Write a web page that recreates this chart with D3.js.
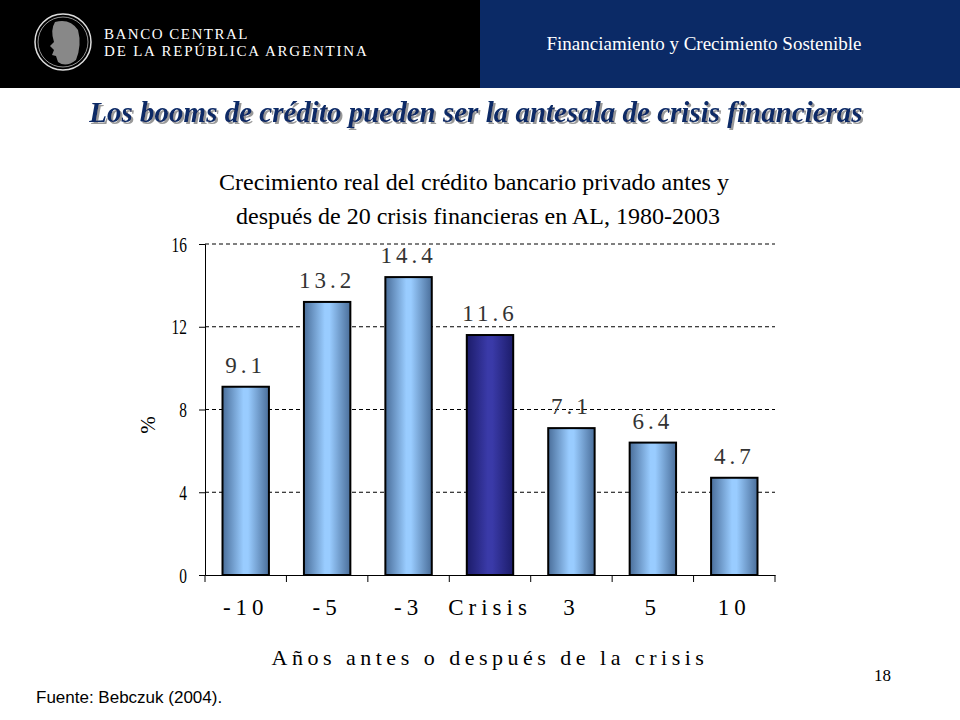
<!DOCTYPE html><html><head><meta charset="utf-8"><script src="https://cdn.jsdelivr.net/npm/d3@7"></script>
<style>body{margin:0;background:#fff}svg text{font-family:"Liberation Serif","Times New Roman","DejaVu Serif",serif}</style></head><body><svg width="960" height="720"></svg>
<script>
const categories=["-10","-5","-3","Crisis","3","5","10"];
const values=[9.1,13.2,14.4,11.6,7.1,6.4,4.7];
const yTicks=[0,4,8,12,16];
const svg=d3.select("svg");
const defs=svg.append("defs");
function grad(id,edge,mid){const g=defs.append("linearGradient").attr("id",id);
 [[0,edge],[0.45,mid],[0.55,mid],[1,edge]].forEach(([o,c])=>g.append("stop").attr("offset",o).attr("stop-color",c));}
grad("gl","#4a6e9a","#99ccff");grad("gd","#1c1c6a","#3a3aa8");
const f=defs.append("filter").attr("id","sh");
f.append("feDropShadow").attr("dx",2).attr("dy",2).attr("stdDeviation",0.5).attr("flood-color","#999");
// header
svg.append("rect").attr("width",480).attr("height",88).attr("fill","#000");
svg.append("rect").attr("x",480).attr("width",480).attr("height",88).attr("fill","#0b2a66");
svg.append("circle").attr("cx",63).attr("cy",42).attr("r",28).attr("fill","none").attr("stroke","#ddd").attr("stroke-width",1.5);
svg.append("circle").attr("cx",63).attr("cy",42).attr("r",25).attr("fill","none").attr("stroke","#bbb").attr("stroke-width",0.8);
svg.append("path").attr("d","M55 22 Q70 18 78 30 Q82 45 76 60 Q66 68 58 62 L56 56 L52 55 L54 50 L50 46 L54 42 Q50 30 55 22Z").attr("fill","#888");
svg.append("text").attr("x",104).attr("y",39).attr("fill","#fff").attr("font-size",15).attr("letter-spacing",1.5).text("BANCO CENTRAL");
svg.append("text").attr("x",104).attr("y",56).attr("fill","#fff").attr("font-size",15).attr("letter-spacing",1.8).text("DE LA REPÚBLICA ARGENTINA");
svg.append("text").attr("x",704).attr("y",50).attr("fill","#fff").attr("font-size",19).attr("text-anchor","middle").text("Financiamiento y Crecimiento Sostenible");
// title
svg.append("text").attr("x",476).attr("y",122).attr("text-anchor","middle").attr("font-size",29).attr("font-weight","bold").attr("font-style","italic").attr("fill","#0b2a66").attr("filter","url(#sh)").text("Los booms de crédito pueden ser la antesala de crisis financieras");
svg.append("text").attr("x",474).attr("y",190).attr("text-anchor","middle").attr("font-size",24).text("Crecimiento real del crédito bancario privado antes y");
svg.append("text").attr("x",478).attr("y",224).attr("text-anchor","middle").attr("font-size",24).text("después de 20 crisis financieras en AL, 1980-2003");
// chart
const x=d3.scaleBand().domain(categories).range([205,775]).paddingInner(0.43).paddingOuter(0.215);
const y=d3.scaleLinear().domain([0,16]).range([575,244]);
const g=svg.append("g");
yTicks.filter(v=>v>0).forEach(v=>g.append("line").attr("x1",205).attr("x2",775).attr("y1",y(v)).attr("y2",y(v)).attr("stroke","#000").attr("stroke-dasharray","4,3"));
const ya=g.append("g").attr("transform","translate(205,0)").call(d3.axisLeft(y).tickValues(yTicks).tickSize(6).tickFormat(d3.format("d")));
ya.attr("font-family",null);
ya.selectAll("text").attr("font-size",22).attr("transform","scale(0.7,1)").attr("x",-18/0.7);
ya.select(".domain").attr("stroke","#000");
const xa=g.append("g").attr("transform","translate(0,575)").call(d3.axisBottom(x).tickSize(0).tickPadding(24));
xa.attr("font-family",null);
xa.selectAll("text").attr("font-size",23).attr("letter-spacing",5);
xa.select(".domain").attr("stroke","#000");
categories.forEach((c,i)=>g.append("line").attr("x1",x(c)-x.step()*0.215).attr("x2",x(c)-x.step()*0.215).attr("y1",575).attr("y2",582).attr("stroke","#000"));
g.append("line").attr("x1",775).attr("x2",775).attr("y1",575).attr("y2",582).attr("stroke","#000");
g.selectAll(".bar").data(values).join("rect").attr("x",(d,i)=>x(categories[i])).attr("width",x.bandwidth()).attr("y",d=>y(d)).attr("height",d=>575-y(d))
 .attr("fill",(d,i)=>categories[i]==="Crisis"?"url(#gd)":"url(#gl)").attr("stroke","#000").attr("stroke-width",2);
g.selectAll(".lbl").data(values).join("text").attr("x",(d,i)=>x(categories[i])+x.bandwidth()/2).attr("y",d=>y(d)-14).attr("text-anchor","middle").attr("font-size",23).attr("letter-spacing",4).attr("fill","#333").text(d=>d.toFixed(1));
svg.append("text").attr("transform","translate(155,425) rotate(-90)").attr("text-anchor","middle").attr("font-size",21).text("%");
svg.append("text").attr("x",490).attr("y",665).attr("text-anchor","middle").attr("font-size",22).attr("letter-spacing",4.5).text("Años antes o después de la crisis");
svg.append("text").attr("x",874).attr("y",681).attr("font-size",17).text("18");
svg.append("text").attr("x",36).attr("y",703).attr("font-size",17).style("font-family","Liberation Sans").text("Fuente: Bebczuk (2004).");
</script></body></html>
